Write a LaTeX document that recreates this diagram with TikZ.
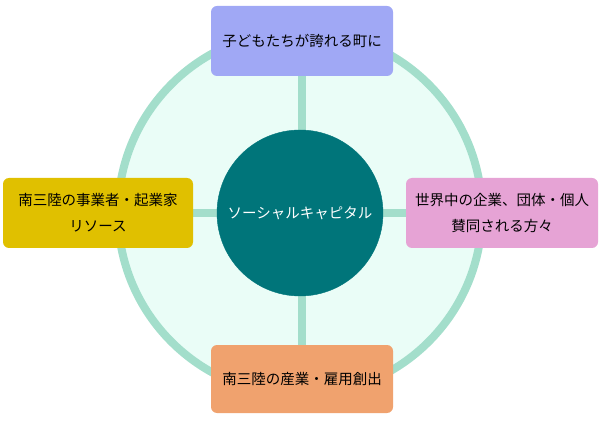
\documentclass[tikz,border=0pt]{standalone}
\usepackage{fontspec}
\setmainfont{Noto Sans CJK JP}
\usetikzlibrary{positioning,backgrounds}

\begin{document}
\begin{tikzpicture}[x=1pt,y=-1pt,font=\fontsize{14.5}{26}\selectfont,
    box/.style={rounded corners=6pt,align=center,inner sep=0pt,minimum height=70pt},
    spoke/.style={draw=cRing,line width=7.5pt}]
      \definecolor{cRing}{RGB}{163,222,203}
      \definecolor{cFill}{RGB}{234,253,247}
      \definecolor{cHub}{RGB}{0,117,122}
      \definecolor{cTop}{RGB}{160,168,245}
      \definecolor{cLeft}{RGB}{224,192,0}
      \definecolor{cRight}{RGB}{230,163,213}
      \definecolor{cBottom}{RGB}{240,162,110}
      \useasboundingbox (0,0) rectangle (600,422);
      \node[circle,draw=cHub,fill=cHub,minimum size=166pt,inner sep=0pt,text=white] (hub) at (300,213) {ソーシャルキャピタル};
      \node[box,fill=cTop,minimum width=182pt] (top) at (302,41) {子どもたちが誇れる町に};
      \node[box,fill=cLeft,minimum width=190pt] (left) at (98,213) {南三陸の事業者・起業家\\リソース};
      \node[box,fill=cRight,minimum width=192pt] (right) at (502,213) {世界中の企業、団体・個人\\賛同される方々};
      \node[box,fill=cBottom,minimum width=182pt,minimum height=68pt] (bottom) at (302,379) {南三陸の産業・雇用創出};
      \begin{pgfonlayer}{background}
        \draw[cRing,line width=8pt,fill=cFill] (hub.center) circle (182);
        \draw[spoke] (top.south) -- (bottom.north);
        \draw[spoke] (left.east) -- (right.west);
      \end{pgfonlayer}
\end{tikzpicture}
\end{document}
